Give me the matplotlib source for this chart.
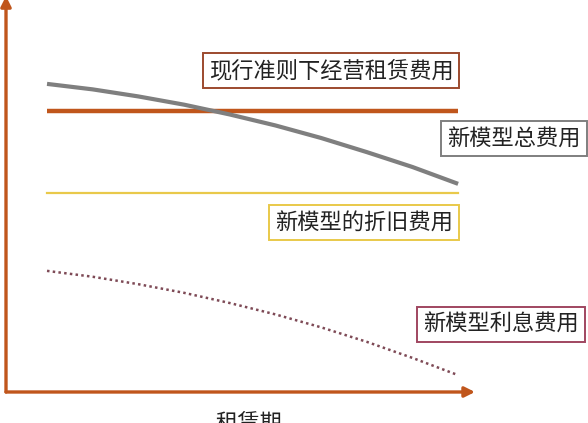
import matplotlib
matplotlib.use("Agg")
import matplotlib.pyplot as plt

plt.rcParams['font.family'] = ['Noto Sans CJK SC', 'DejaVu Sans']

# lease periods and expense levels (arbitrary units)
periods = [1, 2, 3, 4, 5, 6, 7, 8, 9, 10]
operating_lease = [71.7] * 10
new_total = [78.6, 77.2, 75.4, 73.3, 70.8, 68.0, 64.8, 61.2, 57.4, 53.1]
new_depreciation = [50.8] * 10
new_interest = [30.9, 29.4, 27.5, 25.3, 22.7, 19.8, 16.5, 12.8, 8.7, 4.3]

label_operating = '现行准则下经营租赁费用'
label_total = '新模型总费用'
label_depr = '新模型的折旧费用'
label_interest = '新模型利息费用'
x_label = '租赁期'

c_orange = '#C0561C'
c_gray = '#7F7F7F'
c_yellow = '#E9C94A'
c_red = '#7E4A56'

fig = plt.figure(figsize=(5.88, 4.23), dpi=100)
ax = fig.add_axes([6 / 588, 31 / 423, 469 / 588, 392 / 423])
ax.set_xlim(0.102, 10.37)
ax.set_ylim(0, 100)
ax.axis('off')

ax.plot(periods, operating_lease, color=c_orange, lw=3.2, solid_capstyle='butt')
ax.plot(periods, new_total, color=c_gray, lw=3.0, solid_capstyle='butt')
ax.plot(periods, new_depreciation, color=c_yellow, lw=1.6)
ax.plot(periods, new_interest, color=c_red, lw=1.8, ls=(0, (1, 1.3)))

# axis arrows
arrow = dict(arrowstyle='-|>,head_length=0.6,head_width=0.3', color=c_orange, lw=2.4,
             shrinkA=0, shrinkB=0)
ax.annotate('', xy=(1, 0), xytext=(0, 0), xycoords='axes fraction', arrowprops=arrow)
ax.annotate('', xy=(0, 1.01), xytext=(0, 0), xycoords='axes fraction', arrowprops=arrow,
            annotation_clip=False)

def label_box(x, y, text, edge):
    fig.text(x / 588, 1 - y / 423, text, fontsize=16, color='#222222',
             ha='center', va='center',
             bbox=dict(boxstyle='square,pad=0.27', fc='white', ec=edge, lw=1.4))

label_box(331, 71, label_operating, '#9C4A2E')
label_box(514, 139, label_total, c_gray)
label_box(364, 223, label_depr, c_yellow)
label_box(501, 324, label_interest, '#A04660')

fig.text(249 / 588, 1 - 423 / 423, x_label, fontsize=16, color='#222222',
         ha='center', va='center')

fig.savefig('out.png', dpi=100, facecolor='white')
